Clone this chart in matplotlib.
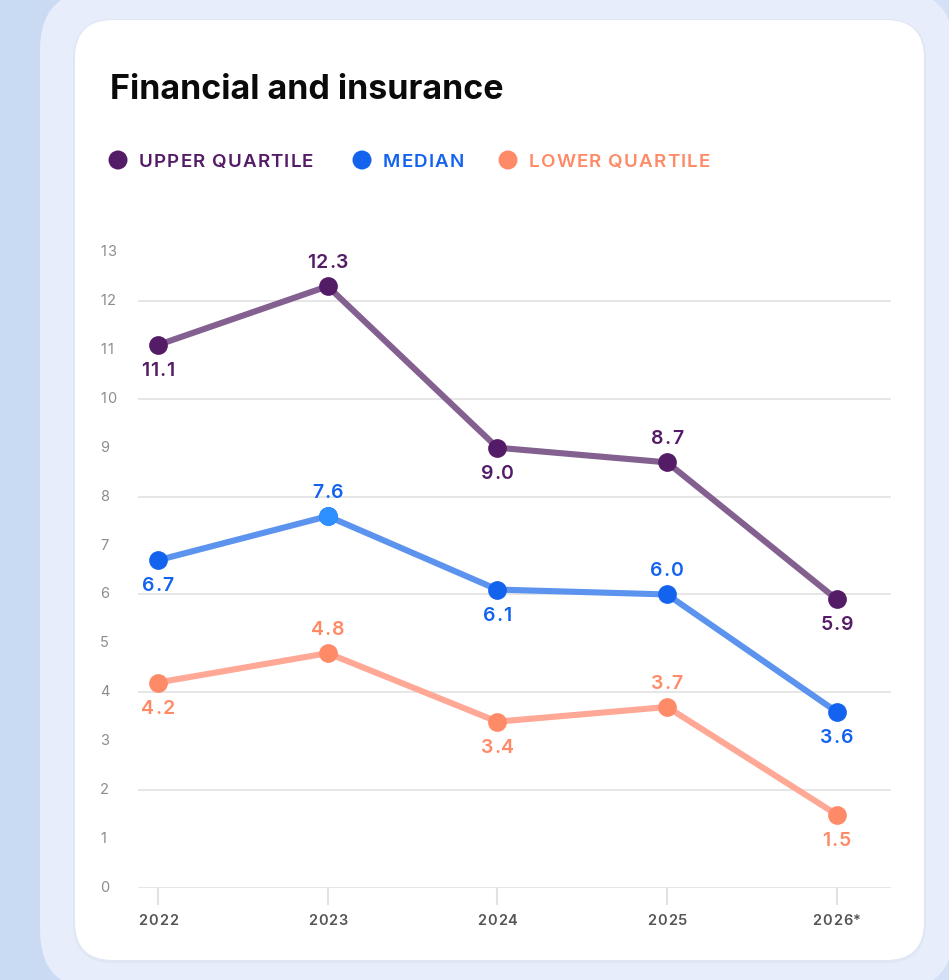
import numpy as np
import matplotlib
matplotlib.use("Agg")
import matplotlib.pyplot as plt
from matplotlib.patches import FancyBboxPatch, Circle
from matplotlib.colors import LinearSegmentedColormap
from matplotlib.transforms import IdentityTransform

# ---- data ----
years = ["2022", "2023", "2024", "2025", "2026*"]
upper_quartile = [11.1, 12.3, 9.0, 8.7, 5.9]
median = [6.7, 7.6, 6.1, 6.0, 3.6]
lower_quartile = [4.2, 4.8, 3.4, 3.7, 1.5]
series_names = ["UPPER QUARTILE", "MEDIAN", "LOWER QUARTILE"]
y_ticks = list(range(0, 14))
grid_values = list(range(0, 13, 2))

# label placement per point: +1 above, -1 below
upper_side = [-1, 1, -1, 1, -1]
median_side = [-1, 1, -1, 1, -1]
lower_side = [-1, 1, -1, 1, -1]

FONT = ["Inter", "DejaVu Sans"]
plt.rcParams["font.family"] = FONT

W, H = 949, 980
DPI = 100
fig = plt.figure(figsize=(W / DPI, H / DPI), dpi=DPI)
renderer = fig.canvas.get_renderer()
ident = IdentityTransform()

# ---- background layer in pixel coordinates (y down) ----
bg = fig.add_axes([0, 0, 1, 1], zorder=-10)
bg.set_xlim(0, W)
bg.set_ylim(H, 0)
bg.axis("off")
grad = np.linspace(0, 1, 256)[None, :]
cmap_bg = LinearSegmentedColormap.from_list("bg", ["#c9daf3", "#d9e4f7", "#d3e0f6"])
bg.imshow(grad, extent=(0, W, H, 0), aspect="auto", cmap=cmap_bg, zorder=0)

panel = FancyBboxPatch((40, -10), 914, 1000, boxstyle="round,pad=0,rounding_size=60",
                       facecolor="#e7edfa", edgecolor="none", zorder=1)
bg.add_patch(panel)
shadow = FancyBboxPatch((73, 19), 853, 944, boxstyle="round,pad=0,rounding_size=40",
                        facecolor="#dfe6f4", edgecolor="none", zorder=2)
bg.add_patch(shadow)
card = FancyBboxPatch((75, 20), 849, 940, boxstyle="round,pad=0,rounding_size=38",
                      facecolor="white", edgecolor="none", zorder=3)
bg.add_patch(card)


def text_width(s, **kw):
    t = fig.text(0, 0, s, **kw)
    w = t.get_window_extent(renderer).width
    t.remove()
    return w


def tracked_text(x, y, s, track=0.0, ha="left", zorder=6, **kw):
    """Draw s at display pixel (x, y; y measured from top) with extra letter spacing."""
    bar_w = text_width("|", **kw)
    offsets = [text_width(s[:i] + "|", **kw) - bar_w + i * track for i in range(len(s))]
    total = text_width(s, **kw) + (len(s) - 1) * track
    x0 = x if ha == "left" else (x - total / 2 if ha == "center" else x - total)
    yy = H - y
    for ch, off in zip(s, offsets):
        if ch.strip():
            fig.text(x0 + off, yy, ch, transform=ident, ha="left", va="center",
                     zorder=zorder, **kw)


# ---- title ----
fig.text(110 / W, 1 - 90 / H, "Financial and insurance", fontsize=24.5, fontweight="bold",
         color="#0a0a0a", ha="left", va="center")

# ---- colours ----
marker_colors = ["#541b67", "#1463ef", "#ff8a68"]
line_colors = ["#83608f", "#5b93ee", "#ffa896"]

# ---- legend ----
legend_x = [118, 362, 508]
for name, col, lx in zip(series_names, marker_colors, legend_x):
    bg.add_patch(Circle((lx, 160), 9.5, facecolor=col, edgecolor="none", zorder=5))
    tracked_text(lx + 21, 162, name, track=1.1, fontsize=13.5, fontweight="semibold",
                 color=col)

# ---- chart axes ----
left_px, right_px = 137.8, 891
bottom_px, top_px = 888, 252
ax = fig.add_axes([left_px / W, 1 - bottom_px / H, (right_px - left_px) / W,
                   (bottom_px - top_px) / H])
ax.patch.set_alpha(0)
x = np.arange(len(years))
ax.set_xlim((left_px - 158) / 169.7, (right_px - 158) / 169.7)
ax.set_ylim(0, 13)
for s in ax.spines.values():
    s.set_visible(False)

for g in grid_values:
    ax.axhline(g, color="#e2e2e2", lw=1.2, zorder=0)

# y tick labels, left aligned at a fixed column
ax.set_yticks(y_ticks)
ax.set_yticklabels([])
ax.tick_params(axis="y", length=0)
for v in y_ticks:
    px_y = ax.transData.transform((0, v))[1]
    tracked_text(100, H - px_y, str(v), track=1.2, fontsize=10.5, color="#8c8c8c")

# x ticks with labels
ax.set_xticks(x)
ax.set_xticklabels([])
ax.tick_params(axis="x", length=12, width=1.5, color="#e2e2e2")
for xi, yr in zip(x, years):
    px_x = ax.transData.transform((xi, 0))[0]
    tracked_text(px_x, 921, yr, track=0.9, ha="center", fontsize=10.5,
                 fontweight="semibold", color="#555555")

all_series = [upper_quartile, median, lower_quartile]
all_sides = [upper_side, median_side, lower_side]
for vals, side, mc, lc in zip(all_series, all_sides, marker_colors, line_colors):
    ax.plot(x, vals, color=lc, lw=4.4, solid_capstyle="round", zorder=3, clip_on=False)
    ax.plot(x, vals, "o", color=mc, ms=13.5, mec="none", zorder=4, clip_on=False)
    for xi, v, sd in zip(x, vals, side):
        px_x, px_y = ax.transData.transform((xi, v))
        dy = -23 if sd > 0 else 26
        tracked_text(px_x, H - px_y + dy, f"{v:.1f}", track=0.9, ha="center",
                     fontsize=14, fontweight="semibold", color=mc)

# highlighted point on the median line
ax.plot([x[1]], [median[1]], "o", color="#2e90ff", ms=13.5, mec="none", zorder=4.5,
        clip_on=False)

fig.savefig("out.png", dpi=DPI)
